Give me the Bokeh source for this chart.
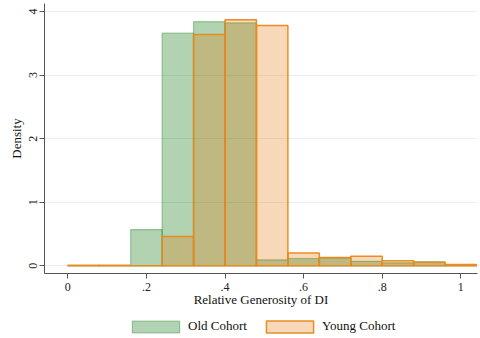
from bokeh.plotting import figure
from bokeh.layouts import column
from bokeh.models import FixedTicker, Legend, LegendItem, Range1d, ColumnDataSource
from bokeh.embed import file_html
from bokeh.resources import INLINE

# Data (bin width 0.08)
bin_left = [0.00, 0.08, 0.16, 0.24, 0.32, 0.40, 0.48, 0.56, 0.64, 0.72, 0.80, 0.88, 0.96]
bin_right = [0.08, 0.16, 0.24, 0.32, 0.40, 0.48, 0.56, 0.64, 0.72, 0.80, 0.88, 0.96, 1.04]
old_density = [0.0, 0.0, 0.57, 3.66, 3.84, 3.82, 0.094, 0.115, 0.126, 0.07, 0.047, 0.063, 0.0]
young_density = [0.01, 0.01, 0.0, 0.46, 3.64, 3.87, 3.78, 0.20, 0.13, 0.15, 0.08, 0.057, 0.02]
series_names = ["Old Cohort", "Young Cohort"]

x_tick_values = [0, 0.2, 0.4, 0.6, 0.8, 1]
x_tick_labels = ["0", ".2", ".4", ".6", ".8", "1"]
y_tick_values = [0, 1, 2, 3, 4]

FONT = "Liberation Serif"
OLD_STYLE = dict(fill_color=(0, 110, 0), fill_alpha=0.3,
                 line_color=(0, 110, 0), line_alpha=0.33, line_width=1.2)
YOUNG_STYLE = dict(fill_color=(226, 114, 0), fill_alpha=0.28,
                   line_color="#e8891c", line_alpha=0.95, line_width=1.5)

p = figure(frame_width=433, frame_height=270, output_backend="svg", toolbar_location=None,
           x_range=Range1d(-0.0593, 1.0425), y_range=Range1d(-0.121, 4.126),
           min_border_left=44, min_border_right=2, min_border_top=3, min_border_bottom=37)
p.outline_line_color = None
p.background_fill_color = "white"

old_src = ColumnDataSource(dict(left=bin_left, right=bin_right, top=old_density, bottom=[0] * len(bin_left)))
young_src = ColumnDataSource(dict(left=bin_left, right=bin_right, top=young_density, bottom=[0] * len(bin_left)))

p.quad(left="left", right="right", top="top", bottom="bottom", source=old_src, **OLD_STYLE)
p.quad(left="left", right="right", top="top", bottom="bottom", source=young_src, **YOUNG_STYLE)

# grid
p.xgrid.visible = False
p.ygrid.grid_line_color = "#e6f0f1"
p.ygrid.grid_line_width = 1
p.ygrid.ticker = FixedTicker(ticks=y_tick_values)

# x axis
xa = p.xaxis[0]
xa.ticker = FixedTicker(ticks=x_tick_values)
xa.major_label_overrides = {v: l for v, l in zip(x_tick_values, x_tick_labels)}
xa.axis_label = "Relative Generosity of DI"
xa.axis_label_text_font = FONT
xa.axis_label_text_font_style = "normal"
xa.axis_label_text_font_size = "13px"
xa.axis_label_text_color = "#111111"
xa.axis_label_standoff = -2
xa.major_label_text_font = FONT
xa.major_label_text_font_size = "12px"
xa.major_label_text_color = "#222222"
xa.major_label_standoff = 4
xa.major_tick_in = 0
xa.major_tick_out = 5
xa.minor_tick_line_color = None
xa.axis_line_color = "#555555"
xa.major_tick_line_color = "#555555"

# y axis
ya = p.yaxis[0]
ya.ticker = FixedTicker(ticks=y_tick_values)
ya.axis_label = "Density"
ya.axis_label_text_font = FONT
ya.axis_label_text_font_style = "normal"
ya.axis_label_text_font_size = "13px"
ya.axis_label_text_color = "#111111"
ya.axis_label_standoff = 3
ya.major_label_orientation = "vertical"
ya.major_label_text_font = FONT
ya.major_label_text_font_size = "12px"
ya.major_label_text_color = "#222222"
ya.major_label_standoff = 2
ya.major_tick_in = 0
ya.major_tick_out = 5
ya.minor_tick_line_color = None
ya.axis_line_color = "#555555"
ya.major_tick_line_color = "#555555"

# legend strip below the chart (its own renderers sit outside its visible y range)
pl = figure(width=479, height=27, output_backend="svg", toolbar_location=None,
            x_axis_type=None, y_axis_type=None, x_range=Range1d(0, 1), y_range=Range1d(100, 101),
            min_border=0)
pl.outline_line_color = None
pl.xgrid.visible = False
pl.ygrid.visible = False
lr_old = pl.quad(source=old_src, left="left", right="right", top="top", bottom="bottom", **OLD_STYLE)
lr_young = pl.quad(source=young_src, left="left", right="right", top="top", bottom="bottom", **YOUNG_STYLE)

legend = Legend(items=[LegendItem(label=series_names[0], renderers=[lr_old]),
                       LegendItem(label=series_names[1], renderers=[lr_young])],
                orientation="horizontal", location=(82, 3),
                glyph_width=59, glyph_height=15, label_standoff=3, spacing=13,
                padding=0, margin=0, border_line_alpha=0, background_fill_alpha=0,
                label_text_font=FONT, label_text_font_size="13px", label_text_color="#111111",
                label_height=15)
pl.add_layout(legend, "center")

layout = column(p, pl, spacing=0)
open("out.html", "w").write(file_html(layout, INLINE))
